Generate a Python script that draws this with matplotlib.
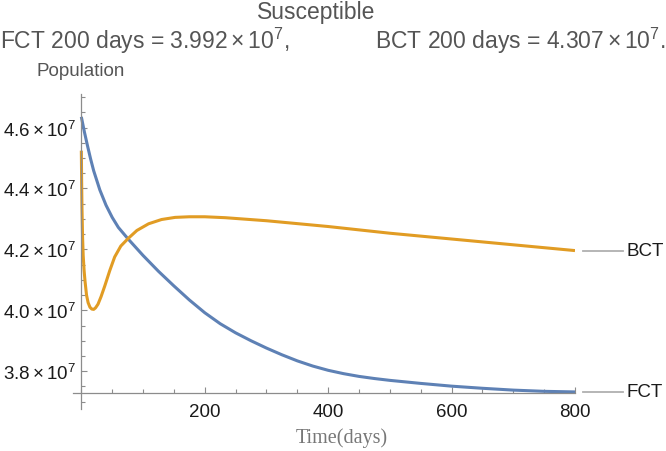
import numpy as np
import matplotlib.pyplot as plt
from matplotlib.ticker import FixedLocator, MultipleLocator

plt.rcParams['font.family'] = ['Liberation Sans', 'DejaVu Sans']
plt.rcParams['mathtext.fontset'] = 'custom'
plt.rcParams['mathtext.rm'] = 'Liberation Sans'
plt.rcParams['mathtext.it'] = 'Liberation Sans:italic'
plt.rcParams['mathtext.bf'] = 'Liberation Sans:bold'

# values (population in units of 1e7)
fct_t = [0, 5, 10, 15, 20, 30, 40, 50, 60, 75, 100, 125, 150, 175, 200, 225,
         250, 275, 300, 325, 350, 375, 400, 425, 450, 475, 500, 525, 550, 600,
         650, 700, 750, 800]
fct_v = [4.635, 4.585, 4.540, 4.497, 4.458, 4.395, 4.345, 4.305, 4.272, 4.236,
         4.180, 4.128, 4.080, 4.034, 3.992, 3.956, 3.926, 3.900, 3.876, 3.854,
         3.834, 3.817, 3.803, 3.792, 3.783, 3.776, 3.770, 3.765, 3.760, 3.751,
         3.744, 3.738, 3.734, 3.732]

bct_t = [0, 0.5, 1, 2, 3, 4.5, 6, 8.4, 11, 14, 17, 20, 23, 27, 32, 38, 46, 54,
         64, 76, 90, 109, 130, 152, 175, 200, 233, 300, 400, 500, 600, 700, 800]
bct_v = [4.524, 4.420, 4.340, 4.240, 4.180, 4.130, 4.095, 4.050, 4.025, 4.010,
         4.004, 4.003, 4.008, 4.020, 4.045, 4.080, 4.130, 4.175, 4.211, 4.236,
         4.262, 4.284, 4.298, 4.305, 4.307, 4.307, 4.304, 4.294, 4.275, 4.253,
         4.234, 4.215, 4.196]

y_major = [3.8, 4.0, 4.2, 4.4, 4.6]
y_labels = ['3.8', '4.0', '4.2', '4.4', '4.6']
x_major = [200, 400, 600, 800]

title = 'Susceptible'
fct_note = r'FCT 200 days = $3.992\times10^{7}$,'
bct_note = r'BCT 200 days = $4.307\times10^{7}$.'

blue = '#5E81B5'
orange = '#E19C24'
axcol = '#8c8c8c'

fig = plt.figure(figsize=(6.66, 4.52), dpi=100)
ax = fig.add_axes([72.7 / 666, 42 / 452, (575 - 72.7) / 666, 315 / 452])

scale = 1e7
ax.plot(fct_t, np.array(fct_v) * scale, color=blue, lw=2.2, solid_capstyle='butt')
ax.plot(bct_t, np.array(bct_v) * scale, color=orange, lw=2.2, solid_capstyle='butt')

ax.set_xlim(-14, 800)
ax.set_ylim(3.676 * scale, 4.71 * scale)

ax.spines['left'].set_position(('data', 0))
ax.spines['bottom'].set_position(('data', 3.728 * scale))
ax.spines['top'].set_visible(False)
ax.spines['right'].set_visible(False)
for s in ('left', 'bottom'):
    ax.spines[s].set_color(axcol)
    ax.spines[s].set_linewidth(0.9)

ax.yaxis.set_major_locator(FixedLocator([v * scale for v in y_major]))
ax.set_yticklabels([r'$%s\times10^{7}$' % l for l in y_labels])
ax.yaxis.set_minor_locator(MultipleLocator(0.05 * scale))
ax.xaxis.set_major_locator(FixedLocator(x_major))
ax.xaxis.set_minor_locator(MultipleLocator(50))

ax.tick_params(which='both', direction='in', color=axcol, width=0.8,
               labelsize=13.5, labelcolor='#1a1a1a')
ax.tick_params(which='major', length=4.5)
ax.tick_params(which='minor', length=2.8)
ax.tick_params(axis='x', pad=7)
ax.tick_params(axis='y', pad=4)

# line end labels
for v, lab in [(bct_v[-1], 'BCT'), (fct_v[-1], 'FCT')]:
    ax.plot([813, 878], [v * scale, v * scale], color='#b0b0b0', lw=1.3, clip_on=False)
    ax.text(884, v * scale, lab, fontsize=13.5, color='#1a1a1a', va='center', ha='left',
            clip_on=False)

fig.text(342 / 666, 1 - 438 / 452, 'Time(days)', family='Liberation Serif',
         fontsize=14.5, color='#777777', ha='center', va='center')
fig.text(316 / 666, 1 - 12 / 452, title, fontsize=16.5, color='#555555',
         ha='center', va='center')
fig.text(0.0, 1 - 41 / 452, fct_note, fontsize=16.5, color='#555555',
         ha='left', va='center')
fig.text(375 / 666, 1 - 41 / 452, bct_note, fontsize=16.5, color='#555555',
         ha='left', va='center')
fig.text(37 / 666, 1 - 71 / 452, 'Population', fontsize=13.5, color='#555555',
         ha='left', va='center')

fig.savefig('out.png', dpi=100)
